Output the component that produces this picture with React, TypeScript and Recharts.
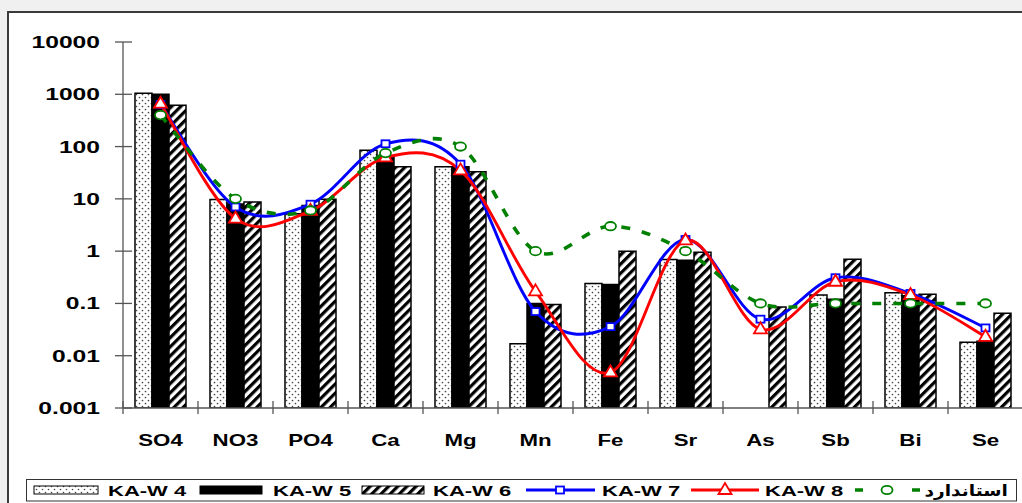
import React from "react";
import { ComposedChart, Bar, Line, XAxis, YAxis, Legend } from "recharts";

// categories and series
const categories = ["SO4", "NO3", "PO4", "Ca", "Mg", "Mn", "Fe", "Sr", "As", "Sb", "Bi", "Se"];
const kaw4 = [1050, 9.7, 5.2, 85, 41, 0.017, 0.24, 0.69, null, 0.145, 0.16, 0.018];
const kaw5 = [1000, 8.0, 7.5, 65, 41, 0.1, 0.23, 0.67, null, 0.12, 0.14, 0.019];
const kaw6 = [620, 8.7, 9.8, 41, 33, 0.095, 1.0, 0.95, 0.085, 0.7, 0.15, 0.065];
const kaw7 = [640, 7.0, 7.9, 113, 46, 0.07, 0.036, 1.67, 0.05, 0.31, 0.155, 0.034];
const kaw8 = [660, 4.2, 5.9, 62, 35, 0.17, 0.0048, 1.6, 0.032, 0.26, 0.145, 0.023];
const standard = [400, 10, 6, 75, 100, 1, 3, 1, 0.1, 0.1, 0.1, 0.1];

const yTicks = [0.001, 0.01, 0.1, 1, 10, 100, 1000, 10000];
const yTickLabels = ["0.001", "0.01", "0.1", "1", "10", "100", "1000", "10000"];

const seriesNames = ["KA-W 4", "KA-W 5", "KA-W 6", "KA-W 7", "KA-W 8", "استاندارد"];

const data = categories.map((c, i) => ({
  name: c,
  w4: kaw4[i],
  w5: kaw5[i],
  w6: kaw6[i],
  w7: kaw7[i],
  w8: kaw8[i],
  std: standard[i],
}));

const FONT = "'Liberation Sans', Arial, sans-serif";

// Excel-like smoothing (catmull-rom style bezier)
const excelCurve: any = (context: any) => {
  let pts: number[][] = [];
  return {
    areaStart() {},
    areaEnd() {},
    lineStart() {
      pts = [];
    },
    point(x: number, y: number) {
      pts.push([+x, +y]);
    },
    lineEnd() {
      const n = pts.length;
      if (!n) return;
      context.moveTo(pts[0][0], pts[0][1]);
      for (let i = 0; i < n - 1; i++) {
        const p0 = pts[Math.max(i - 1, 0)];
        const p1 = pts[i];
        const p2 = pts[i + 1];
        const p3 = pts[Math.min(i + 2, n - 1)];
        context.bezierCurveTo(
          p1[0] + (p2[0] - p0[0]) / 6,
          p1[1] + (p2[1] - p0[1]) / 6,
          p2[0] - (p3[0] - p1[0]) / 6,
          p2[1] - (p3[1] - p1[1]) / 6,
          p2[0],
          p2[1]
        );
      }
    },
  };
};

const YTick = (props: any) => {
  const { x, y, payload } = props;
  const idx = yTicks.indexOf(payload.value);
  return (
    <g>
      <line x1={x - 8} x2={x + 9} y1={y} y2={y} stroke="#555" strokeWidth={1.3} />
      <text
        transform={`translate(${x - 23},${y + 6}) scale(1.45,1)`}
        textAnchor="end"
        fontSize={17}
        fontWeight="bold"
        fontFamily={FONT}
        fill="#000"
      >
        {idx >= 0 ? yTickLabels[idx] : payload.value}
      </text>
    </g>
  );
};

const XTick = (props: any) => {
  const { x, y, payload, index, visibleTicksCount } = props;
  const off = payload.offset || 0;
  return (
    <g>
      <line x1={x - off} x2={x - off} y1={y - 7} y2={y + 6} stroke="#555" strokeWidth={1.3} />
      {index === visibleTicksCount - 1 && (
        <line x1={x + off} x2={x + off} y1={y - 7} y2={y + 6} stroke="#555" strokeWidth={1.3} />
      )}
      <text
        transform={`translate(${x},${y + 38}) scale(1.35,1)`}
        textAnchor="middle"
        fontSize={16.5}
        fontWeight="bold"
        fontFamily={FONT}
        fill="#000"
      >
        {payload.value}
      </text>
    </g>
  );
};

const SquareDot = (props: any) => {
  const { cx, cy, index } = props;
  if (cx == null || cy == null) return <g key={`sq-${index}`} />;
  return (
    <rect key={`sq-${index}`} x={cx - 4} y={cy - 3.5} width={8} height={7} fill="#fff" stroke="#0000FF" strokeWidth={1.8} />
  );
};

const TriangleDot = (props: any) => {
  const { cx, cy, index } = props;
  if (cx == null || cy == null) return <g key={`tr-${index}`} />;
  return (
    <polygon
      key={`tr-${index}`}
      points={`${cx},${cy - 7} ${cx + 6.5},${cy + 4} ${cx - 6.5},${cy + 4}`}
      fill="#fff"
      stroke="#FF0000"
      strokeWidth={1.8}
    />
  );
};

const CircleDot = (props: any) => {
  const { cx, cy, index } = props;
  if (cx == null || cy == null) return <g key={`ci-${index}`} />;
  return <ellipse key={`ci-${index}`} cx={cx} cy={cy} rx={5.5} ry={4.2} fill="#fff" stroke="#008000" strokeWidth={1.8} />;
};

const legendText = (x: number, label: string) => (
  <text
    transform={`translate(${x},17) scale(1.42,1)`}
    fontSize={15.5}
    fontWeight="bold"
    fontFamily={FONT}
    fill="#000"
  >
    {label}
  </text>
);

const renderLegend = () => {
  const L = 26; // legend box left in page coords
  return (
    <svg width={992} height={23} style={{ display: "block" }}>
      <defs>
        <pattern id="lgDots" width="6" height="6" patternUnits="userSpaceOnUse">
          <rect width="6" height="6" fill="#fff" />
          <circle cx="1.5" cy="1.5" r="0.8" fill="#444" />
          <circle cx="4.5" cy="4.5" r="0.8" fill="#444" />
        </pattern>
        <pattern id="lgHatch" width="6.5" height="6.5" patternUnits="userSpaceOnUse" patternTransform="rotate(45)">
          <rect width="6.5" height="6.5" fill="#fff" />
          <rect width="3.2" height="6.5" fill="#000" />
        </pattern>
      </defs>
      <rect x={0.5} y={0.5} width={990} height={21.5} fill="#fff" stroke="#333" strokeWidth={1} />
      <rect x={34 - L} y={7} width={64} height={8} fill="url(#lgDots)" stroke="#000" strokeWidth={1} />
      {legendText(108 - L, seriesNames[0])}
      <rect x={200 - L} y={7} width={62} height={8} fill="#000" stroke="#000" strokeWidth={1} />
      {legendText(273 - L, seriesNames[1])}
      <rect x={362 - L} y={7} width={62} height={8} fill="url(#lgHatch)" stroke="#000" strokeWidth={1} />
      {legendText(433 - L, seriesNames[2])}
      <line x1={526 - L} x2={595 - L} y1={11} y2={11} stroke="#0000FF" strokeWidth={2.8} />
      <rect x={560 - L - 4} y={7.5} width={8} height={7} fill="#fff" stroke="#0000FF" strokeWidth={1.8} />
      {legendText(602 - L, seriesNames[3])}
      <line x1={691 - L} x2={759 - L} y1={11} y2={11} stroke="#FF0000" strokeWidth={2.8} />
      <polygon
        points={`${725 - L},${4} ${725 - L + 6.5},${15} ${725 - L - 6.5},${15}`}
        fill="#fff"
        stroke="#FF0000"
        strokeWidth={1.8}
      />
      {legendText(765 - L, seriesNames[4])}
      <line x1={855 - L} x2={863 - L} y1={11} y2={11} stroke="#008000" strokeWidth={3.5} />
      <ellipse cx={887 - L} cy={11} rx={5.5} ry={4.2} fill="#fff" stroke="#008000" strokeWidth={1.8} />
      <line x1={912 - L} x2={920 - L} y1={11} y2={11} stroke="#008000" strokeWidth={3.5} />
      <text
        transform={`translate(${1008 - L},16.5) scale(1.2,1)`}
        textAnchor="end"
        fontSize={15.5}
        fontWeight="bold"
        fontFamily="'DejaVu Sans', sans-serif"
        fill="#000"
      >
        {seriesNames[5]}
      </text>
    </svg>
  );
};

export default function App() {
  return (
    <div style={{ position: "relative", width: 1022, height: 503, overflow: "hidden", background: "#f0f0f0" }}>
      <style>{`body{margin:0}`}</style>
      <div
        style={{
          position: "absolute",
          left: 7,
          top: 11,
          width: 1100,
          height: 600,
          background: "#fff",
          border: "2px solid #3a3a3a",
        }}
      />
      <div style={{ position: "absolute", left: 0, top: 0 }}>
        <ComposedChart
          width={1040}
          height={503}
          data={data}
          margin={{ top: 42, right: 17, left: 0, bottom: 32 }}
          barCategoryGap="16%"
          barGap={0}
        >
          <defs>
            <pattern id="dots" width="6" height="6" patternUnits="userSpaceOnUse">
              <rect width="6" height="6" fill="#fff" />
              <circle cx="1.5" cy="1.5" r="0.85" fill="#444" />
              <circle cx="4.5" cy="4.5" r="0.85" fill="#444" />
            </pattern>
            <pattern id="hatch" width="6.5" height="6.5" patternUnits="userSpaceOnUse" patternTransform="rotate(45)">
              <rect width="6.5" height="6.5" fill="#fff" />
              <rect width="3.2" height="6.5" fill="#000" />
            </pattern>
          </defs>
          <XAxis
            dataKey="name"
            interval={0}
            height={40}
            axisLine={{ stroke: "#555", strokeWidth: 1.3 }}
            tickLine={false}
            tickSize={0}
            tickMargin={0}
            tick={<XTick />}
          />
          <YAxis
            scale="log"
            type="number"
            domain={[0.001, 10000]}
            ticks={yTicks}
            allowDataOverflow
            width={123}
            axisLine={{ stroke: "#555", strokeWidth: 1.3 }}
            tickLine={false}
            tickSize={0}
            tickMargin={0}
            tick={<YTick />}
            interval={0}
          />
          <Legend
            verticalAlign="bottom"
            content={renderLegend}
            wrapperStyle={{ left: 26, top: 479, bottom: "auto", width: 992, height: 23 }}
          />
          <Bar dataKey="w4" name={seriesNames[0]} fill="url(#dots)" stroke="#000" strokeWidth={1.5} isAnimationActive={false} />
          <Bar dataKey="w5" name={seriesNames[1]} fill="#000" stroke="#000" strokeWidth={1.5} isAnimationActive={false} />
          <Bar dataKey="w6" name={seriesNames[2]} fill="url(#hatch)" stroke="#000" strokeWidth={1.5} isAnimationActive={false} />
          <Line
            dataKey="w7"
            name={seriesNames[3]}
            type={excelCurve}
            stroke="#0000FF"
            strokeWidth={2.9}
            dot={SquareDot}
            activeDot={false}
            isAnimationActive={false}
          />
          <Line
            dataKey="w8"
            name={seriesNames[4]}
            type={excelCurve}
            stroke="#FF0000"
            strokeWidth={2.9}
            dot={TriangleDot}
            activeDot={false}
            isAnimationActive={false}
          />
          <Line
            dataKey="std"
            name={seriesNames[5]}
            type={excelCurve}
            stroke="#008000"
            strokeWidth={3.6}
            strokeDasharray="9 12"
            dot={CircleDot}
            activeDot={false}
            isAnimationActive={false}
          />
        </ComposedChart>
      </div>
    </div>
  );
}
